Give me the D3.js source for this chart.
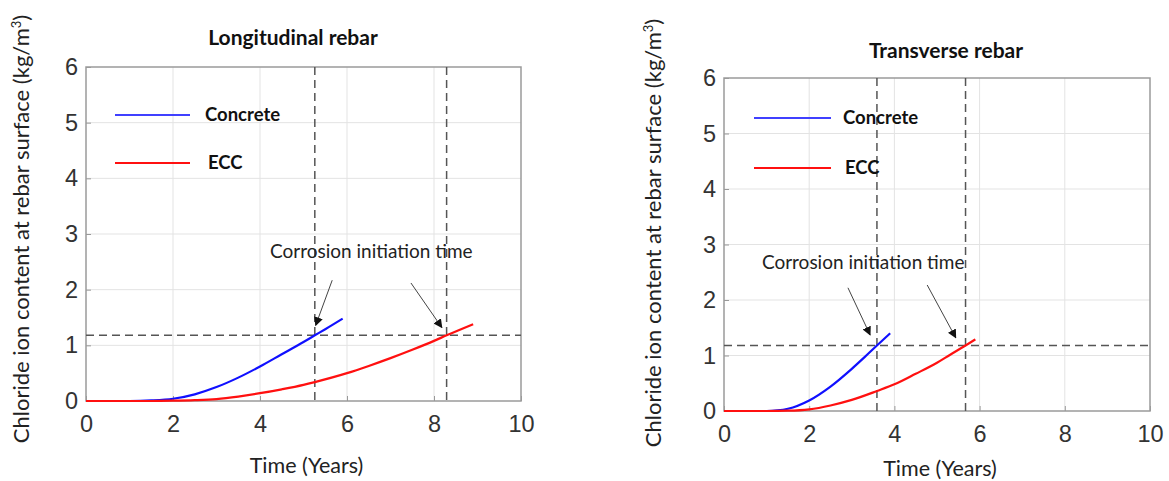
<!DOCTYPE html>
<html>
<head>
<meta charset="utf-8">
<script src="https://cdn.jsdelivr.net/npm/d3@7"></script>
<style>
  html, body { margin: 0; padding: 0; background: #fff; }
  svg { display: block; }
</style>
</head>
<body>
<svg id="chart" width="1169" height="481"></svg>
<script>
// Chloride build-up at the rebar surface over time (years)
const xTicks = [0, 2, 4, 6, 8, 10];
const yTicks = [0, 1, 2, 3, 4, 5, 6];
const seriesNames = ["Concrete", "ECC"];
const threshold = 1.18;

// Longitudinal rebar
const longTime     = [0, 0.5, 1, 1.5, 2, 2.5, 3, 3.5, 4, 4.5, 5, 5.26, 5.5, 5.9];
const longConcrete = [0, 0, 0, 0.01, 0.04, 0.12, 0.25, 0.42, 0.62, 0.84, 1.06, 1.18, 1.29, 1.48];
const longEccTime  = [0, 0.5, 1, 1.5, 2, 2.5, 3, 3.5, 4, 4.5, 5, 5.26, 6, 6.5, 7, 7.5, 8, 8.29, 8.9];
const longEcc      = [0, 0, 0, 0, 0.005, 0.015, 0.035, 0.08, 0.14, 0.21, 0.29, 0.34, 0.5, 0.63, 0.77, 0.92, 1.08, 1.18, 1.38];
const longInitiation = [5.26, 8.29];

// Transverse rebar
const transTime     = [0, 0.5, 1, 1.25, 1.5, 2, 2.5, 3, 3.3, 3.59, 3.9];
const transConcrete = [0, 0, 0, 0.01, 0.04, 0.19, 0.44, 0.76, 0.97, 1.18, 1.4];
const transEccTime  = [0, 0.5, 1, 1.5, 2, 2.5, 3, 3.59, 4, 4.5, 5, 5.3, 5.67, 5.9];
const transEcc      = [0, 0, 0, 0.005, 0.03, 0.1, 0.2, 0.36, 0.48, 0.67, 0.87, 1.01, 1.18, 1.29];
const transInitiation = [3.59, 5.67];

const panels = [
  {
    title: "Longitudinal rebar",
    box: { left: 86, right: 521, top: 67, bottom: 401 },
    titlePos: [293, 38],
    yLabelX: 21, yLabelY: 229, xLabelY: 465,
    concrete: { t: longTime, c: longConcrete },
    ecc: { t: longEccTime, c: longEcc },
    initiation: longInitiation,
    note: { x: 4.23, y: 2.68 },
    arrows: [
      { from: [5.66, 2.17], to: [5.28, 1.36] },
      { from: [7.47, 2.12], to: [8.18, 1.32] }
    ],
    legend: { x0: 29, x1: 104, text: 119, y: [48, 96], textEcc: 122 }
  },
  {
    title: "Transverse rebar",
    box: { left: 724, right: 1150, top: 78, bottom: 411 },
    titlePos: [946, 51],
    yLabelX: 653, yLabelY: 233, xLabelY: 468,
    concrete: { t: transTime, c: transConcrete },
    ecc: { t: transEccTime, c: transEcc },
    initiation: transInitiation,
    note: { x: 0.89, y: 2.67 },
    arrows: [
      { from: [2.91, 2.22], to: [3.43, 1.37] },
      { from: [4.77, 2.27], to: [5.44, 1.32] }
    ],
    legend: { x0: 30, x1: 107, text: 119, y: [40, 90], textEcc: 121 }
  }
];

const svg = d3.select("#chart");

const defs = svg.append("defs");
defs.append("marker")
  .attr("id", "arrowhead")
  .attr("viewBox", "0 0 10 10")
  .attr("refX", 9).attr("refY", 5)
  .attr("markerWidth", 9).attr("markerHeight", 9)
  .attr("markerUnits", "userSpaceOnUse")
  .attr("orient", "auto")
  .append("path")
  .attr("d", "M0,0 L10,5 L0,10 z")
  .attr("fill", "#111");

const labelFont = "Lato, 'Open Sans', sans-serif";
const tickFont = "'Liberation Sans', Arial, sans-serif";

panels.forEach(p => {
  const b = p.box;
  const w = b.right - b.left, h = b.bottom - b.top;
  const x = d3.scaleLinear().domain([0, 10]).range([0, w]);
  const y = d3.scaleLinear().domain([0, 6]).range([h, 0]);

  const g = svg.append("g").attr("transform", `translate(${b.left},${b.top})`);

  // grid
  g.append("g").selectAll("line").data(xTicks.slice(1, -1)).join("line")
    .attr("x1", d => x(d)).attr("x2", d => x(d))
    .attr("y1", 0).attr("y2", h)
    .attr("stroke", "#e3e3e3").attr("stroke-width", 1);
  g.append("g").selectAll("line").data(yTicks.slice(1, -1)).join("line")
    .attr("y1", d => y(d)).attr("y2", d => y(d))
    .attr("x1", 0).attr("x2", w)
    .attr("stroke", "#e3e3e3").attr("stroke-width", 1);

  // axes (ticks drawn inward)
  const xAxis = d3.axisBottom(x).tickValues(xTicks).tickFormat(d3.format("d")).tickSize(-5).tickPadding(14);
  const yAxis = d3.axisLeft(y).tickValues(yTicks).tickFormat(d3.format("d")).tickSize(-5).tickPadding(14);

  const gx = g.append("g").attr("transform", `translate(0,${h})`).call(xAxis);
  const gy = g.append("g").call(yAxis);
  [gx, gy].forEach(ax => {
    ax.select(".domain").remove();
    ax.selectAll(".tick line").attr("stroke", "#999");
    ax.selectAll(".tick text")
      .attr("fill", "#333")
      .style("font-family", tickFont)
      .style("font-size", "23.5px");
  });
  gx.selectAll(".tick text").attr("dy", "0.71em").attr("y", 14);
  gy.selectAll(".tick text").attr("x", -8);

  // box
  g.append("rect").attr("x", 0).attr("y", 0).attr("width", w).attr("height", h)
    .attr("fill", "none").attr("stroke", "#9a9a9a").attr("stroke-width", 1.5);

  // threshold and initiation lines
  const dash = "8,5";
  g.append("line")
    .attr("x1", x(0)).attr("x2", x(10))
    .attr("y1", y(threshold)).attr("y2", y(threshold))
    .attr("stroke", "#555").attr("stroke-width", 1.5).attr("stroke-dasharray", dash);
  g.append("g").selectAll("line").data(p.initiation).join("line")
    .attr("x1", d => x(d)).attr("x2", d => x(d))
    .attr("y1", 0).attr("y2", h)
    .attr("stroke", "#555").attr("stroke-width", 1.5).attr("stroke-dasharray", dash);

  // curves
  const line = d3.line().x(d => x(d[0])).y(d => y(d[1])).curve(d3.curveMonotoneX);
  const concretePts = p.concrete.t.map((t, i) => [t, p.concrete.c[i]]);
  const eccPts = p.ecc.t.map((t, i) => [t, p.ecc.c[i]]);
  g.append("path").datum(concretePts).attr("d", line)
    .attr("fill", "none").attr("stroke", "#1010ff").attr("stroke-width", 2.2);
  g.append("path").datum(eccPts).attr("d", line)
    .attr("fill", "none").attr("stroke", "#ff1010").attr("stroke-width", 2.2);

  // annotation
  g.append("text")
    .attr("x", x(p.note.x)).attr("y", y(p.note.y))
    .attr("dy", "0.35em")
    .attr("fill", "#222")
    .style("font-family", labelFont)
    .style("font-size", "19px")
    .text("Corrosion initiation time");
  g.append("g").selectAll("line").data(p.arrows).join("line")
    .attr("x1", d => x(d.from[0])).attr("y1", d => y(d.from[1]))
    .attr("x2", d => x(d.to[0])).attr("y2", d => y(d.to[1]))
    .attr("stroke", "#444").attr("stroke-width", 1)
    .attr("marker-end", "url(#arrowhead)");

  // legend
  const colors = ["#4040ff", "#ff1010"];
  seriesNames.forEach((name, i) => {
    g.append("line")
      .attr("x1", p.legend.x0).attr("x2", p.legend.x1)
      .attr("y1", p.legend.y[i]).attr("y2", p.legend.y[i])
      .attr("stroke", colors[i]).attr("stroke-width", 2);
    g.append("text")
      .attr("x", i === 0 ? p.legend.text : p.legend.textEcc)
      .attr("y", p.legend.y[i]).attr("dy", "0.35em")
      .attr("fill", "#111")
      .style("font-family", labelFont)
      .style("font-weight", "bold")
      .style("font-size", "18.5px")
      .text(name);
  });

  // title
  svg.append("text")
    .attr("x", p.titlePos[0]).attr("y", p.titlePos[1])
    .attr("text-anchor", "middle").attr("dy", "0.35em")
    .attr("fill", "#111")
    .style("font-family", labelFont)
    .style("font-weight", "bold")
    .style("font-size", "21px")
    .text(p.title);

  // axis labels
  svg.append("text")
    .attr("x", (b.left + b.right) / 2 + 3).attr("y", p.xLabelY)
    .attr("text-anchor", "middle").attr("dy", "0.35em")
    .attr("fill", "#222")
    .style("font-family", labelFont)
    .style("font-size", "21.5px")
    .text("Time (Years)");

  const yl = svg.append("text")
    .attr("transform", `translate(${p.yLabelX},${p.yLabelY}) rotate(-90)`)
    .attr("text-anchor", "middle").attr("dy", "0.35em")
    .attr("fill", "#222")
    .style("font-family", labelFont)
    .style("font-size", "22px");
  yl.append("tspan").text("Chloride ion content at rebar surface (kg/m");
  yl.append("tspan").attr("baseline-shift", "super").style("font-size", "13px").text("3");
  yl.append("tspan").text(")");
});
</script>
</body>
</html>
